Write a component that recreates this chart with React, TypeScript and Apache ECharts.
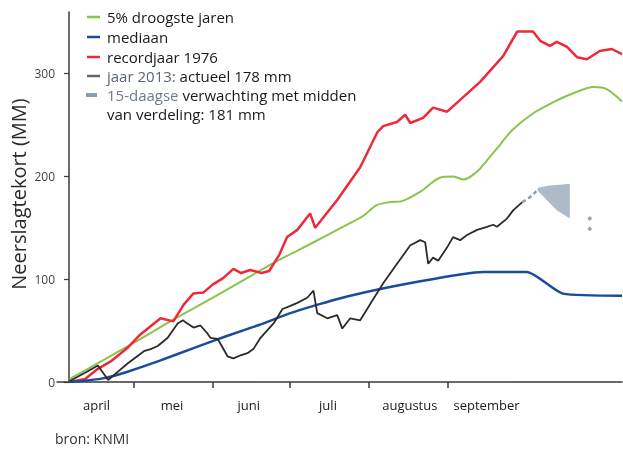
import React, { useEffect, useRef } from 'react';
import * as echarts from 'echarts';

// x = days since 1 April, y = neerslagtekort (mm)
const droogsteJaren: [number, number][] = [
  [5, 3], [15, 17], [30, 38], [45, 60], [61, 82], [75, 102], [84, 115], [95, 129], [105, 142],
  [115, 155], [120, 162], [125, 172], [130, 175], [135, 176], [142, 185], [150, 199], [155, 200],
  [159, 197], [164, 204], [168, 215], [173, 230], [178, 245], [186, 261], [194, 272], [201, 280],
  [210, 287], [215, 285], [221, 273],
];

const mediaan: [number, number][] = [
  [5, 0], [12, 1.5], [19, 4], [27.6, 10], [40.5, 21], [53.4, 33], [66.7, 45], [79.6, 56],
  [91.3, 67], [103, 76], [114.7, 84], [140, 97], [166.7, 107], [183.8, 107], [197.9, 86], [221, 84],
];

const recordjaar1976: [number, number][] = [
  [5, 0], [11, 3], [15.5, 12], [21, 20], [27.5, 33], [32.5, 46], [36.5, 54], [40.5, 62], [45.5, 59],
  [49.5, 75], [53.3, 86], [57.2, 87], [61, 95], [65, 101], [69, 110], [72, 106], [75.6, 109], [80, 106],
  [83, 108], [87, 124], [90, 141], [94, 148], [99, 164], [101, 150], [109.6, 177], [118.6, 209],
  [125.3, 243], [127.6, 249], [133, 253], [136.2, 260], [138.2, 252], [143.2, 257], [147.1, 267],
  [152.6, 263], [165.5, 292], [174.5, 317], [180, 341], [186.2, 341], [189, 332], [192.8, 327],
  [195.5, 331], [199.5, 326], [203.4, 316], [207.3, 314], [212.3, 322], [217, 324], [221, 319],
];

const jaar2013: [number, number][] = [
  [5, 1], [11, 9], [16, 16], [18, 9], [20, 2], [21, 4], [27.6, 18], [34, 30], [36.6, 32], [39.4, 35],
  [43.3, 43], [47.2, 57], [49.2, 60], [51, 57], [53.4, 53], [56.1, 55], [58.9, 47], [60, 43],
  [62.8, 42], [64, 37], [66.7, 25], [69, 23], [71.8, 26], [74.5, 28], [76.8, 32], [79.6, 43],
  [84.7, 57], [88.2, 71], [91.3, 74], [94, 77], [97.9, 82], [100.3, 89], [101.8, 67], [105.7, 62],
  [109.6, 65], [111.6, 52], [114.7, 62], [118.6, 60], [123.3, 79], [127.6, 96], [133, 115],
  [138.2, 133], [142.1, 138], [144, 136], [145.2, 115], [147.1, 121], [149.1, 118], [152.6, 131],
  [154.9, 141], [157.7, 138], [160.4, 143], [164.3, 148], [168.2, 151], [170.6, 153], [172.1, 151],
  [176, 159], [178.4, 167], [182, 175],
];

const verwachting: [number, number][] = [[182, 175], [184, 178], [186, 182], [188, 187]];
const fanUpper: [number, number][] = [[188, 189], [192, 191], [196.5, 192], [200.6, 193]];
const fanLower: [number, number][] = [[188, 186], [191.6, 177], [195.5, 167], [200.6, 159]];
const verwachtingStippen: [number, number][] = [[208.4, 159], [208.4, 149]];

const monthTickDays = [30, 61, 91, 122, 153];
const monthLabelDays = [15.5, 45, 75, 106, 138, 168];
const monthLabels = ['april', 'mei', 'juni', 'juli', 'augustus', 'september'];
const yTicks = [0, 100, 200, 300];

const FONT = '"Open Sans", "Noto Sans", sans-serif';
const GREEN = '#8cc34b';
const BLUE = '#1b4b9b';
const RED = '#ec2a3c';
const BLACK = '#2b2b2b';
const FORE = '#8d9db1';
const AXIS = '#3a3a3a';

export default function App() {
  const ref = useRef<HTMLDivElement>(null);
  useEffect(() => {
    const chart = echarts.init(ref.current!, null, { renderer: 'svg' });
    const legendY = [17, 37, 57, 76, 95];
    const legendLine = (y: number, color: string) => ({
      type: 'line',
      shape: { x1: 87, y1: y, x2: 100, y2: y },
      style: { stroke: color, lineWidth: 2.5 },
    });
    const legendText = (y: number, text: string, rich?: any) => ({
      type: 'text',
      x: 107,
      y,
      style: {
        text,
        fontSize: 15,
        fontFamily: FONT,
        fill: '#1a1a1a',
        verticalAlign: 'middle',
        rich,
      },
    });
    chart.setOption({
      animation: false,
      grid: { left: 57, right: 1, top: 12, bottom: 68 },
      xAxis: {
        type: 'value',
        min: 0,
        max: 221,
        axisLine: { show: true, onZero: false, lineStyle: { color: AXIS, width: 1.5 } },
        axisTick: { show: true, customValues: monthTickDays, length: 6, lineStyle: { color: AXIS, width: 1.5 } },
        axisLabel: {
          customValues: monthLabelDays,
          formatter: (v: number) => monthLabels[monthLabelDays.indexOf(v)] ?? '',
          fontSize: 13,
          fontFamily: FONT,
          color: '#1a1a1a',
          margin: 16,
        },
        splitLine: { show: false },
      },
      yAxis: {
        type: 'value',
        min: 0,
        max: 360,
        offset: -12,
        axisLine: { show: true, onZero: false, lineStyle: { color: AXIS, width: 1.5 } },
        axisTick: { show: true, customValues: yTicks, length: 5, lineStyle: { color: AXIS, width: 1.2 } },
        axisLabel: { customValues: yTicks, margin: 14, fontSize: 12, fontFamily: FONT, color: '#444' },
        splitLine: { show: false },
      },
      series: [
        {
          name: '5% droogste jaren',
          type: 'line',
          data: droogsteJaren,
          smooth: 0.3,
          showSymbol: false,
          lineStyle: { color: GREEN, width: 2 },
        },
        {
          name: 'recordjaar 1976',
          type: 'line',
          data: recordjaar1976,
          showSymbol: false,
          lineStyle: { color: RED, width: 2.5 },
        },
        {
          name: 'mediaan',
          type: 'line',
          data: mediaan,
          smooth: 0.2,
          showSymbol: false,
          lineStyle: { color: BLUE, width: 2.5 },
        },
        {
          name: 'jaar 2013',
          type: 'line',
          data: jaar2013,
          showSymbol: false,
          lineStyle: { color: BLACK, width: 1.8 },
        },
        {
          name: '15-daagse verwachting',
          type: 'line',
          data: verwachting,
          showSymbol: false,
          lineStyle: { color: FORE, width: 2.5, type: [4, 3] },
        },
        {
          name: 'verwachting spreiding',
          type: 'custom',
          data: [fanUpper[0]],
          renderItem: (_params: any, api: any) => {
            const pts = [
              ...fanUpper.map((p) => api.coord(p)),
              ...fanLower.slice().reverse().map((p) => api.coord(p)),
            ];
            return {
              type: 'polygon',
              shape: { points: pts },
              style: { fill: FORE, opacity: 0.7 },
            };
          },
        },
        {
          name: 'verwachting stippen',
          type: 'scatter',
          data: verwachtingStippen,
          symbolSize: 4,
          itemStyle: { color: '#7d8fa5' },
        },
      ],
      graphic: [
        legendLine(legendY[0], GREEN),
        legendText(legendY[0], '5% droogste jaren'),
        legendLine(legendY[1], BLUE),
        legendText(legendY[1], 'mediaan'),
        legendLine(legendY[2], RED),
        legendText(legendY[2], 'recordjaar 1976'),
        legendLine(legendY[3], '#5f6873'),
        legendText(legendY[3], '{g|jaar 2013:} actueel 178 mm', {
          g: { fill: '#5b6573', fontSize: 15, fontFamily: FONT },
        }),
        {
          type: 'rect',
          shape: { x: 86, y: 93, width: 11, height: 4 },
          style: { fill: FORE },
        },
        legendText(legendY[4], '{g|15-daagse} verwachting met midden', {
          g: { fill: '#6b7a8c', fontSize: 15, fontFamily: FONT },
        }),
        legendText(114, 'van verdeling: 181 mm'),
        {
          type: 'text',
          x: 18,
          y: 194,
          rotation: Math.PI / 2,
          style: {
            text: 'Neerslagtekort (MM)',
            fontSize: 20,
            fontFamily: FONT,
            fill: '#2a2a2a',
            align: 'center',
            verticalAlign: 'middle',
          },
        },
        {
          type: 'text',
          x: 55,
          y: 438,
          style: {
            text: 'bron: KNMI',
            fontSize: 14,
            fontFamily: FONT,
            fill: '#333',
            verticalAlign: 'middle',
          },
        },
      ],
    });
    return () => chart.dispose();
  }, []);
  return <div ref={ref} style={{ position: 'fixed', left: 0, top: 0, width: 623, height: 450 }} />;
}
